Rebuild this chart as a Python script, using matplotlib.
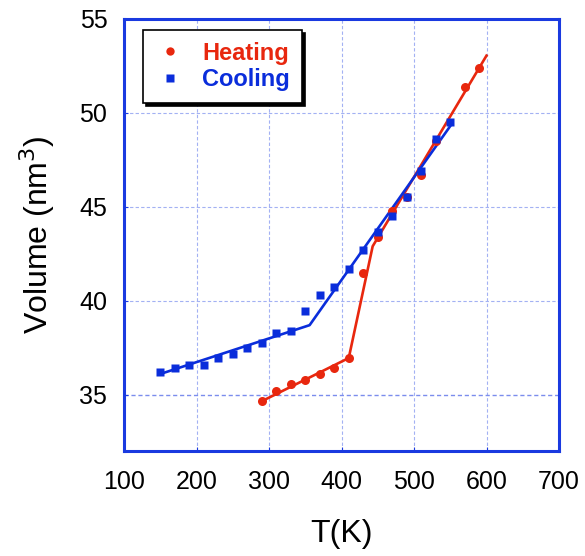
import matplotlib
matplotlib.use("Agg")
import matplotlib.pyplot as plt
from matplotlib.lines import Line2D

plt.rcParams['font.family'] = ['Liberation Sans', 'DejaVu Sans']

# Heating data
heat_T = [290, 310, 330, 350, 370, 390, 410, 430, 450, 470, 490, 510, 530, 570, 590]
heat_V = [34.65, 35.17, 35.55, 35.8, 36.1, 36.4, 36.96, 41.5, 43.4, 44.8, 45.5, 46.7, 48.5, 51.4, 52.4]
heat_fit_T = [290, 410, 443, 600]
heat_fit_V = [34.65, 36.95, 42.9, 53.05]

# Cooling data
cool_T = [150, 170, 190, 210, 230, 250, 270, 290, 310, 330, 350, 370, 390, 410, 430, 450, 470, 490, 510, 530, 550]
cool_V = [36.19, 36.4, 36.6, 36.6, 36.95, 37.16, 37.5, 37.75, 38.3, 38.4, 39.47, 40.32, 40.74, 41.67,
          42.72, 43.68, 44.5, 45.5, 46.89, 48.6, 49.5]
cool_fit_T = [150, 356, 550]
cool_fit_V = [36.1, 38.7, 49.3]

xticks = [100, 200, 300, 400, 500, 600, 700]
yticks = [35, 40, 45, 50, 55]

RED = '#e8270e'
BLUE = '#0a2ddb'
SPINE = '#1a3ae0'
GRID = '#a3b1f3'

fig = plt.figure(figsize=(5.85, 5.56), dpi=100)
ax = fig.add_axes([124/585, 1-451/556, 435/585, 432/556])

ax.set_xlim(100, 700)
ax.set_ylim(32, 55)
ax.set_xticks(xticks)
ax.set_yticks(yticks)

# grid
for x in xticks[1:-1]:
    ax.axvline(x, color=GRID, ls=(0, (3, 2)), lw=0.8, zorder=0)
for y in yticks[:-1]:
    ax.axhline(y, color='#7b8ded' if y == 35 else GRID, ls=(0, (3, 2)),
               lw=1.0 if y == 35 else 0.8, zorder=0)

ax.plot(heat_fit_T, heat_fit_V, color=RED, lw=1.9, zorder=2)
ax.plot(cool_fit_T, cool_fit_V, color=BLUE, lw=1.9, zorder=2)
ax.plot(heat_T, heat_V, 'o', color=RED, ms=6.5, mec='none', zorder=3)
ax.plot(cool_T, cool_V, 's', color=BLUE, ms=6, mec='none', zorder=3)

for s in ax.spines.values():
    s.set_color(SPINE)
    s.set_linewidth(2.2)
ax.tick_params(direction='in', length=3, color=SPINE, labelsize=18)
ax.tick_params(axis='x', pad=14)
ax.tick_params(axis='y', pad=12)

ax.set_xlabel('T(K)', fontsize=23, labelpad=18)
ax.set_ylabel('Volume (nm$^3$)', fontsize=23, labelpad=16)

handles = [Line2D([], [], marker='o', ls='none', color=RED, mec='none', ms=6),
           Line2D([], [], marker='s', ls='none', color=BLUE, mec='none', ms=6)]
leg = ax.legend(handles, ['Heating', 'Cooling'], loc='upper left',
                bbox_to_anchor=(0.044, 0.975), borderaxespad=0,
                fancybox=False, shadow={'color': 'k', 'alpha': 1},
                edgecolor='k', framealpha=1, labelcolor=[RED, BLUE],
                prop={'weight': 'bold', 'size': 17}, handletextpad=0.7,
                handlelength=1.3, labelspacing=0.15, borderpad=0.5)
leg.get_frame().set_linewidth(1.2)

fig.savefig('out.png', dpi=100)
